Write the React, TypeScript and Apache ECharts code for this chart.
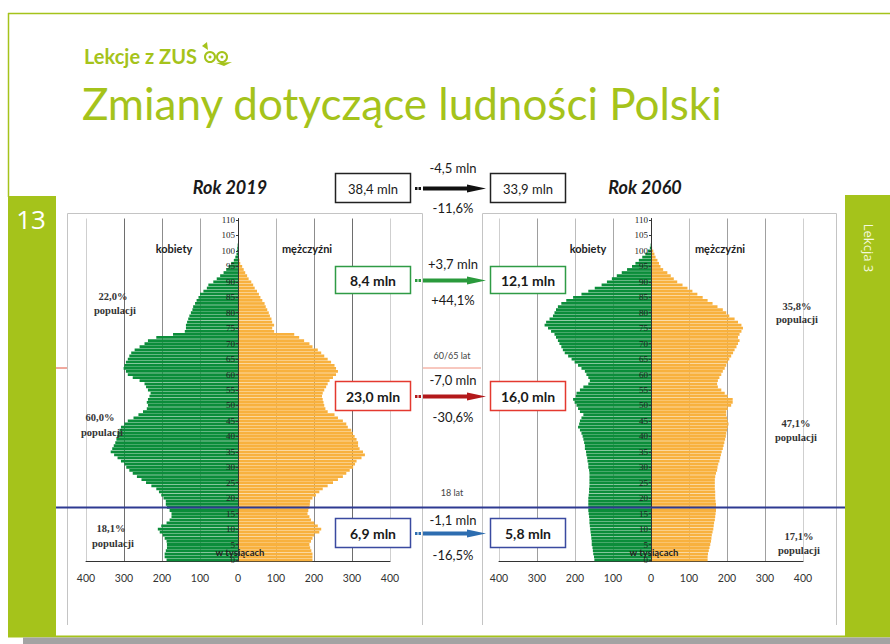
import React, { useEffect, useRef } from 'react';
import * as echarts from 'echarts';

// ---------- data ----------
const AGES: string[] = Array.from({ length: 111 }, (_, i) => String(i));

// thousands of persons, index = age (0..110)
const WOMEN_2019 = [
  188, 193, 193, 190, 187, 187, 188, 193, 198, 206,
  211, 202, 188, 180, 175, 175, 180, 187, 190, 190,
  196, 202, 208, 215, 228, 242, 254, 266, 277, 286,
  294, 299, 308, 317, 326, 335, 331, 327, 323, 320,
  318, 317, 312, 308, 299, 290, 275, 262, 250, 240,
  237, 240, 237, 233, 230, 237, 242, 246, 259, 277,
  290, 295, 301, 299, 295, 290, 286, 281, 272, 259,
  246, 237, 215, 171, 140, 137, 137, 134, 131, 128,
  124, 120, 118, 113, 109, 104, 100, 91, 82, 78,
  65, 56, 47, 38, 31, 25, 18, 11, 7, 4,
  3, 2, 1, 0, 0, 0, 0, 0, 0, 0, 0,
];
const MEN_2019 = [
  196, 196, 196, 193, 190, 188, 192, 196, 201, 214,
  219, 210, 201, 192, 188, 183, 185, 188, 189, 190,
  196, 205, 214, 223, 236, 250, 263, 276, 285, 294,
  303, 308, 312, 325, 334, 329, 320, 316, 316, 312,
  307, 302, 298, 289, 285, 276, 263, 254, 236, 230,
  227, 225, 223, 221, 223, 227, 232, 236, 241, 250,
  258, 263, 258, 254, 245, 236, 227, 219, 210, 196,
  188, 174, 161, 148, 95, 90, 95, 90, 88, 84,
  81, 77, 73, 70, 64, 59, 55, 50, 44, 40,
  35, 28, 24, 19, 15, 11, 6, 4, 2, 1,
  1, 0, 0, 0, 0, 0, 0, 0, 0, 0, 0,
];
const WOMEN_2060 = [
  149, 150, 152, 153, 154, 156, 156, 157, 158, 159,
  160, 161, 162, 162, 163, 164, 165, 165, 165, 165,
  165, 164, 163, 163, 162, 162, 162, 162, 162, 163,
  165, 165, 167, 168, 170, 171, 174, 174, 176, 178,
  180, 183, 187, 192, 189, 187, 183, 178, 187, 192,
  196, 201, 205, 198, 196, 187, 178, 165, 161, 165,
  170, 174, 183, 192, 201, 209, 218, 227, 232, 236,
  241, 245, 250, 254, 263, 271, 280, 276, 267, 258,
  254, 250, 245, 236, 223, 205, 183, 165, 148, 130,
  116, 103, 90, 77, 63, 50, 41, 32, 23, 15,
  8, 3, 1, 0, 0, 0, 0, 0, 0, 0, 0,
];
const MEN_2060 = [
  149, 149, 150, 152, 154, 156, 158, 159, 160, 162,
  164, 165, 166, 168, 169, 170, 171, 171, 171, 170,
  169, 169, 169, 168, 168, 168, 168, 169, 171, 174,
  175, 177, 180, 182, 184, 186, 189, 191, 193, 195,
  197, 198, 200, 202, 204, 202, 200, 198, 198, 202,
  211, 215, 215, 202, 194, 185, 176, 174, 176, 180,
  185, 189, 194, 198, 202, 206, 211, 216, 220, 225,
  229, 233, 229, 233, 238, 242, 238, 229, 220, 206,
  198, 189, 175, 162, 149, 136, 122, 109, 96, 83,
  69, 60, 52, 43, 32, 25, 21, 17, 12, 9,
  6, 3, 1, 0, 0, 0, 0, 0, 0, 0, 0,
];

const YEARS = ['Rok 2019', 'Rok 2060'];
const SIDE_LABELS = ['kobiety', 'mężczyźni'];
const UNIT_LABEL = 'w tysiącach';
const SHARES_2019 = ['22,0%', '60,0%', '18,1%'];
const SHARES_2060 = ['35,8%', '47,1%', '17,1%'];
const GROUP_FROM = ['38,4 mln', '8,4 mln', '23,0 mln', '6,9 mln'];
const GROUP_TO = ['33,9 mln', '12,1 mln', '16,0 mln', '5,8 mln'];
const GROUP_DIFF = ['-4,5 mln', '+3,7 mln', '-7,0 mln', '-1,1 mln'];
const GROUP_PCT = ['-11,6%', '+44,1%', '-30,6%', '-16,5%'];
const AGE_MARKS = ['60/65 lat', '18 lat'];

// ---------- styles ----------
const LIME = '#a5c31b';
const GREEN = '#0b8d3a';
const ORANGE = '#f8b13e';
const BOX_COLORS = ['#222222', '#2f9b45', '#e4392f', '#3a4aa0'];
const ARROW_COLORS = ['#111111', '#2a9a3c', '#b3191b', '#2d6db0'];
const BOX_Y = [173, 266, 381, 518];
const BOX_H = [29, 27, 29, 29];
const DIFF_Y = [168, 264, 380, 520];
const PCT_Y = [208, 300, 417, 555];

function txt(text: string, x: number, y: number, size: number, opts: any = {}) {
  return {
    type: 'text',
    x,
    y,
    z: opts.z ?? 50,
    rotation: opts.rotation ?? 0,
    style: {
      text,
      fill: opts.fill ?? '#222',
      fontSize: size,
      fontFamily: opts.family ?? 'Lato',
      fontWeight: opts.weight ?? 'normal',
      fontStyle: opts.style ?? 'normal',
      align: opts.align ?? 'center',
      verticalAlign: 'middle',
    },
  };
}

function buildGraphics() {
  const g: any[] = [];
  // frame
  g.push({ type: 'line', z: 1, shape: { x1: 8, y1: 13.5, x2: 890, y2: 13.5 }, style: { stroke: LIME, lineWidth: 1.5 } });
  g.push({ type: 'line', z: 1, shape: { x1: 8.5, y1: 13, x2: 8.5, y2: 197 }, style: { stroke: LIME, lineWidth: 1.5 } });
  g.push({ type: 'rect', z: 1, shape: { x: 8, y: 196, width: 48, height: 441 }, style: { fill: LIME } });
  g.push({ type: 'rect', z: 1, shape: { x: 845, y: 195, width: 45, height: 442 }, style: { fill: LIME } });
  g.push({ type: 'rect', z: 1, shape: { x: 8, y: 635.5, width: 882, height: 2 }, style: { fill: LIME } });
  g.push({ type: 'rect', z: 1, shape: { x: 23, y: 637.5, width: 867, height: 7 }, style: { fill: '#a3a3a3' } });
  g.push(txt('13', 31, 219, 26, { fill: '#ffffff', family: 'Open Sans' }));
  g.push(txt('Lekcja 3', 869, 248, 13, { fill: '#f4f8dc', family: 'Open Sans', rotation: -Math.PI / 2 }));

  // logo & title
  g.push(txt('Lekcje z ZUS', 84, 56, 20, { fill: LIME, weight: 'bold', align: 'left' }));
  g.push({ type: 'circle', z: 50, shape: { cx: 210, cy: 57, r: 5 }, style: { fill: 'none', stroke: LIME, lineWidth: 2 } });
  g.push({ type: 'circle', z: 50, shape: { cx: 222, cy: 57, r: 5 }, style: { fill: 'none', stroke: LIME, lineWidth: 2 } });
  g.push({ type: 'circle', z: 50, shape: { cx: 210, cy: 57, r: 1.5 }, style: { fill: LIME } });
  g.push({ type: 'circle', z: 50, shape: { cx: 222, cy: 57, r: 1.5 }, style: { fill: LIME } });
  g.push({ type: 'polygon', z: 50, shape: { points: [[202, 46], [207, 42], [208, 50]] }, style: { fill: LIME } });
  g.push({ type: 'polygon', z: 50, shape: { points: [[216, 63], [232, 62], [224, 66]] }, style: { fill: LIME } });
  g.push(txt('Zmiany dotyczące ludności Polski', 82, 103, 44, { fill: LIME, align: 'left' }));

  // panels (top/left/right borders)
  const panels = [[67, 422], [482, 836]];
  panels.forEach(([l, r]) => {
    g.push({ type: 'polyline', z: 0, shape: { points: [[l + 0.5, 625], [l + 0.5, 213.5], [r + 0.5, 213.5], [r + 0.5, 625]] }, style: { stroke: '#c4c4c4', lineWidth: 1, fill: 'none' } });
  });

  // 60/65 separator (red)
  g.push({ type: 'line', z: 1, shape: { x1: 56, y1: 368, x2: 67, y2: 368 }, style: { stroke: '#e2533c', lineWidth: 1 } });
  g.push({ type: 'line', z: 1, shape: { x1: 423, y1: 368, x2: 481, y2: 368 }, style: { stroke: '#f0907e', lineWidth: 1 } });
  g.push(txt(AGE_MARKS[0], 452, 355, 9, { fill: '#444' }));
  g.push(txt(AGE_MARKS[1], 452, 492, 9, { fill: '#444' }));

  // 18 years line (blue)
  g.push({ type: 'line', z: 60, shape: { x1: 56, y1: 507.5, x2: 845, y2: 507.5 }, style: { stroke: '#2e3a92', lineWidth: 2 } });

  // year titles
  g.push(txt(YEARS[0], 230, 187, 18, { weight: 'bold', style: 'italic', fill: '#1a1a1a' }));
  g.push(txt(YEARS[1], 645, 187, 18, { weight: 'bold', style: 'italic', fill: '#1a1a1a' }));

  // side labels
  g.push(txt(SIDE_LABELS[0], 174, 248, 11, { weight: 'bold', fill: '#222' }));
  g.push(txt(SIDE_LABELS[1], 307, 248, 11, { weight: 'bold', fill: '#222' }));
  g.push(txt(SIDE_LABELS[0], 588, 248, 11, { weight: 'bold', fill: '#222' }));
  g.push(txt(SIDE_LABELS[1], 720, 248, 11, { weight: 'bold', fill: '#222' }));
  g.push(txt(UNIT_LABEL, 240, 552, 9.5, { weight: 'bold', fill: '#222' }));
  g.push(txt(UNIT_LABEL, 654, 552, 9.5, { weight: 'bold', fill: '#222' }));

  // population shares
  const serif = { family: 'Liberation Serif', fill: '#333', weight: 'bold' };
  const leftShares = [[113, 296, 310], [100, 417, 432], [111, 528, 543]];
  leftShares.forEach(([x, y1, y2], i) => {
    g.push(txt(SHARES_2019[i], x, y1, 10.5, serif));
    g.push(txt('populacji', x + 2, y2, 10.5, serif));
  });
  const rightShares = [[797, 306, 319], [796, 423, 437], [799, 536, 550]];
  rightShares.forEach(([x, y1, y2], i) => {
    g.push(txt(SHARES_2060[i], x, y1, 10.5, serif));
    g.push(txt('populacji', x, y2, 10.5, serif));
  });

  // boxes and arrows
  for (let i = 0; i < 4; i++) {
    const y = BOX_Y[i];
    const h = BOX_H[i];
    const c = BOX_COLORS[i];
    const bold = i > 0;
    g.push({ type: 'rect', z: 40, shape: { x: 335.5, y: y + 0.5, width: 75, height: h }, style: { fill: '#fff', stroke: c, lineWidth: 1.5 } });
    g.push({ type: 'rect', z: 40, shape: { x: 490.5, y: y + 0.5, width: 75, height: h }, style: { fill: '#fff', stroke: c, lineWidth: 1.5 } });
    g.push(txt(GROUP_FROM[i], 373, y + h / 2 + 1, bold ? 14 : 13, { weight: bold ? 'bold' : 'normal', fill: '#1a1a1a' }));
    g.push(txt(GROUP_TO[i], 528, y + h / 2 + 1, bold ? 14 : 13, { weight: bold ? 'bold' : 'normal', fill: '#1a1a1a' }));
    const ay = y + h / 2 + 1;
    const ac = ARROW_COLORS[i];
    g.push({ type: 'rect', z: 45, shape: { x: 415, y: ay - 1.5, width: 2.5, height: 3 }, style: { fill: ac } });
    g.push({ type: 'rect', z: 45, shape: { x: 418.5, y: ay - 1.5, width: 2.5, height: 3 }, style: { fill: ac } });
    g.push({ type: 'rect', z: 45, shape: { x: 423, y: ay - 2, width: 46, height: 4 }, style: { fill: ac } });
    g.push({ type: 'polygon', z: 45, shape: { points: [[467, ay - 4], [486, ay], [467, ay + 4]] }, style: { fill: ac } });
    g.push(txt(GROUP_DIFF[i], 453, DIFF_Y[i], 13, { fill: '#1a1a1a' }));
    g.push(txt(GROUP_PCT[i], 453, PCT_Y[i], 13, { fill: '#1a1a1a' }));
  }
  return g;
}

const SPLIT_LEFT = ['#cfcfcf', '#6e6e6e', '#8c8c8c', '#a4a4a4', '#888', '#b4b4b4', '#8c8c8c', '#6e6e6e', '#cfcfcf'];
const SPLIT_RIGHT = ['#cfcfcf', '#9e9e9e', '#bcbcbc', '#a8a8a8', '#888', '#bcbcbc', '#a0a0a0', '#a0a0a0', '#cfcfcf'];
const GRID_W = 304;

export default function App() {
  const ref = useRef<HTMLDivElement>(null);
  useEffect(() => {
    if (!ref.current) return;
    const chart = echarts.init(ref.current, null, { renderer: 'svg' });
    const xAxis = [0, 1].map((i) => ({
      type: 'value',
      gridIndex: i,
      min: -400,
      max: 400,
      interval: 100,
      axisLine: { show: true, onZero: false, lineStyle: { color: '#333', width: 1 } },
      axisTick: { show: false },
      axisLabel: {
        formatter: (v: number) => String(Math.abs(v)),
        fontSize: 10.5,
        color: '#333',
        margin: 11,
        fontFamily: 'Lato',
      },
      splitLine: { show: true, lineStyle: { color: i === 0 ? SPLIT_LEFT : SPLIT_RIGHT, width: 1 } },
    }));
    const yAxis = [0, 1].map((i) => ({
      type: 'category',
      gridIndex: i,
      data: AGES,
      position: 'left',
      offset: -GRID_W / 2,
      z: 5,
      axisLine: { show: true, onZero: false, lineStyle: { color: '#333', width: 1 } },
      axisTick: { show: true, length: 2, interval: 4, alignWithLabel: true, lineStyle: { color: '#333' } },
      axisLabel: { interval: 4, fontSize: 9, margin: 3, color: '#222', fontFamily: 'Liberation Serif' },
      splitLine: { show: false },
    }));
    const bar = (data: number[], idx: number, color: string, neg: boolean) => ({
      type: 'bar',
      xAxisIndex: idx,
      yAxisIndex: idx,
      stack: 'p' + idx,
      data: neg ? data.map((v) => -v) : data,
      itemStyle: { color },
      barCategoryGap: '10%',
      silent: true,
    });
    chart.setOption({
      animation: false,
      backgroundColor: '#ffffff',
      grid: [
        { left: 86, width: GRID_W, top: 218.5, height: 343 },
        { left: 499, width: GRID_W, top: 218.5, height: 343 },
      ],
      xAxis,
      yAxis,
      series: [
        bar(WOMEN_2019, 0, GREEN, true),
        bar(MEN_2019, 0, ORANGE, false),
        bar(WOMEN_2060, 1, GREEN, true),
        bar(MEN_2060, 1, ORANGE, false),
      ],
      graphic: buildGraphics(),
    });
    return () => chart.dispose();
  }, []);
  return <div ref={ref} style={{ position: 'absolute', left: 0, top: 0, width: 890, height: 644 }} />;
}
